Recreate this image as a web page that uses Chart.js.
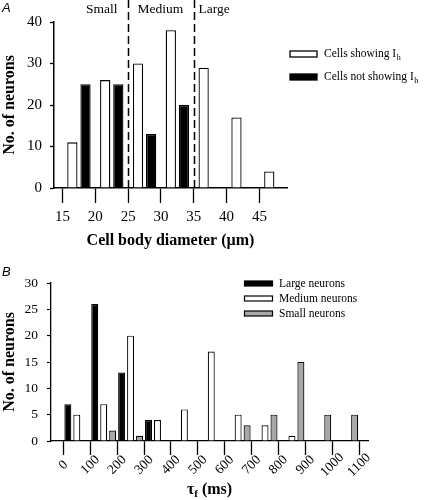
<!DOCTYPE html>
<html>
<head>
<meta charset="utf-8">
<script src="https://cdn.jsdelivr.net/npm/chart.js@4.4.1/dist/chart.umd.min.js"></script>
<style>
    html, body { margin: 0; padding: 0; background: #fff; }
    #wrap { position: relative; width: 424px; height: 500px; }
    canvas { position: absolute; left: 0; }
    #diameterChart { top: 0; }
    #tauChart { top: 250px; }
</style>
</head>
<body>
<div id="wrap">
    <canvas id="diameterChart" width="424" height="250"></canvas>
    <canvas id="tauChart" width="424" height="250"></canvas>
</div>
<script>
// panel A - cell body diameter, 5 um bins
const diameterBins = [15, 20, 25, 30, 35, 40, 45];
const showingIh = [11, 26, 30, 38, 29, 17, 4];
const notShowingIh = [25, 25, 13, 20, null, null, null];
const diameterTicks = [15, 20, 25, 30, 35, 40, 45];
const sizeBounds = [25, 35];
const sizeLabels = ['Small', 'Medium', 'Large'];

// panel B - tau_f, 100 ms bins
const tauBins = [0, 100, 200, 300, 400, 500, 600, 700, 800, 900, 1000];
const largeCounts = [7, 26, 13, 4, null, null, null, null, null, null, null];
const mediumCounts = [5, 7, 20, 4, 6, 17, 5, 3, 1, null, null];
const smallCounts = [null, 2, 1, null, null, null, 3, 5, 15, 5, 5];
const tauTicks = [0, 100, 200, 300, 400, 500, 600, 700, 800, 900, 1000, 1100];

const serif = "'Liberation Serif', 'Times New Roman', serif";
Chart.defaults.font.family = serif;
Chart.defaults.color = '#000';

function drawSubText(ctx, text, sub, x, y, size, weight) {
    const w = weight ? weight + ' ' : '';
    ctx.font = w + size + 'px ' + serif;
    ctx.textAlign = 'left';
    ctx.fillText(text, x, y);
    const tw = ctx.measureText(text).width;
    ctx.font = w + Math.round(size * 0.7) + 'px ' + serif;
    ctx.fillText(sub, x + tw + 0.5, y + size * 0.3);
    return tw + ctx.measureText(sub).width;
}

const panelA = {
    id: 'panelA',
    afterDraw(chart) {
        const { ctx, chartArea, scales: { x } } = chart;
        ctx.save();
        ctx.strokeStyle = '#000';
        ctx.lineWidth = 1.5;
        ctx.setLineDash([8, 4]);
        const px = sizeBounds.map(b => Math.round(x.getPixelForValue(b)) + 0.5);
        px.forEach(p => {
            ctx.beginPath();
            ctx.moveTo(p, 0);
            ctx.lineTo(p, chartArea.bottom);
            ctx.stroke();
        });
        ctx.setLineDash([]);

        ctx.fillStyle = '#000';
        ctx.font = '13.5px ' + serif;
        ctx.textBaseline = 'middle';
        ctx.textAlign = 'right';
        ctx.fillText(sizeLabels[0], px[0] - 11, 9);
        ctx.textAlign = 'left';
        ctx.fillText(sizeLabels[1], px[0] + 9, 9);
        ctx.fillText(sizeLabels[2], px[1] + 4, 9);

        // legend
        chart.data.datasets.forEach((ds, i) => {
            const y = 54 + i * 23;
            ctx.fillStyle = ds.backgroundColor;
            ctx.fillRect(290, y - 3, 27, 6);
            ctx.lineWidth = 1.3;
            ctx.strokeRect(290, y - 3, 27, 6);
            ctx.fillStyle = '#000';
            ctx.textBaseline = 'middle';
            drawSubText(ctx, ds.label, 'h', 324, y, 11.5);
        });

        ctx.font = "italic 13px 'Liberation Sans', sans-serif";
        ctx.textAlign = 'left';
        ctx.fillText('A', 2, 8);
        ctx.restore();
    }
};

const panelB = {
    id: 'panelB',
    afterDraw(chart) {
        const { ctx, chartArea, scales: { x } } = chart;
        ctx.save();
        ctx.fillStyle = '#000';
        ctx.font = '13.5px ' + serif;
        ctx.textAlign = 'center';
        ctx.textBaseline = 'middle';
        tauTicks.forEach(t => {
            ctx.save();
            ctx.translate(x.getPixelForValue(t), 215);
            ctx.rotate(-Math.PI / 4);
            ctx.fillText(String(t), 0, 0);
            ctx.restore();
        });

        // axis title with subscript
        ctx.textBaseline = 'middle';
        ctx.font = 'bold 16px ' + serif;
        const tauW = ctx.measureText('\u03c4').width;
        ctx.font = 'bold 11px ' + serif;
        const fW = ctx.measureText('f').width;
        ctx.font = 'bold 16px ' + serif;
        const restW = ctx.measureText(' (ms)').width;
        let tx = (chartArea.left + chartArea.right) / 2 - (tauW + fW + restW) / 2;
        ctx.textAlign = 'left';
        ctx.fillText('\u03c4', tx, 240);
        ctx.font = 'bold 11px ' + serif;
        ctx.fillText('f', tx + tauW, 244);
        ctx.font = 'bold 16px ' + serif;
        ctx.fillText(' (ms)', tx + tauW + fW, 240);

        // legend
        chart.data.datasets.forEach((ds, i) => {
            const y = 33.5 + i * 15;
            ctx.fillStyle = ds.backgroundColor;
            ctx.fillRect(244.5, y - 2.5, 28, 5);
            ctx.lineWidth = 1.2;
            ctx.strokeStyle = '#000';
            ctx.strokeRect(244.5, y - 2.5, 28, 5);
            ctx.fillStyle = '#000';
            ctx.font = '11.5px ' + serif;
            ctx.fillText(ds.label, 279, y + 0.5);
        });

        ctx.font = "italic 13px 'Liberation Sans', sans-serif";
        ctx.fillText('B', 2, 22);
        ctx.restore();
    }
};

const blackAxis = { color: '#000', width: 1.5 };

new Chart(document.getElementById('diameterChart'), {
    type: 'bar',
    data: {
        labels: diameterBins.map(b => b + 2.5),
        datasets: [{
            label: 'Cells showing I',
            data: showingIh,
            backgroundColor: '#fff',
            borderColor: '#000',
            borderWidth: 1.3,
            categoryPercentage: 0.8,
            barPercentage: 0.78
        }, {
            label: 'Cells not showing I',
            data: notShowingIh,
            backgroundColor: '#000',
            borderColor: '#000',
            borderWidth: 1.3,
            categoryPercentage: 0.8,
            barPercentage: 0.78
        }]
    },
    options: {
        responsive: false,
        animation: false,
        devicePixelRatio: 1,
        layout: { padding: { left: 0, right: 137, top: 22, bottom: 0 } },
        plugins: { legend: { display: false }, tooltip: { enabled: false } },
        scales: {
            x: {
                type: 'linear',
                min: 13.7,
                max: 49.2,
                offset: false,
                afterBuildTicks: s => { s.ticks = diameterTicks.map(v => ({ value: v })); },
                afterFit: s => { s.height = 62; },
                grid: { drawOnChartArea: false, offset: false, tickLength: 15, tickColor: '#000', tickWidth: 1.3 },
                border: blackAxis,
                ticks: { color: '#000', font: { size: 15 }, padding: 5, maxRotation: 0 },
                title: { display: true, text: 'Cell body diameter (\u00b5m)', color: '#000', font: { size: 16, weight: 'bold' }, padding: 0 }
            },
            y: {
                min: 0,
                max: 40,
                afterFit: s => { s.width = 54; },
                grid: { drawOnChartArea: false, tickLength: 4, tickColor: '#000', tickWidth: 1.3 },
                border: blackAxis,
                ticks: { stepSize: 5, color: '#000', font: { size: 15 }, padding: 8, callback: v => v % 10 === 0 ? v : '' },
                title: { display: true, text: 'No. of neurons', color: '#000', font: { size: 16, weight: 'bold' }, padding: 0 }
            }
        }
    },
    plugins: [panelA]
});

new Chart(document.getElementById('tauChart'), {
    type: 'bar',
    data: {
        labels: tauBins.map(b => b + 50),
        datasets: [{
            label: 'Large neurons',
            data: largeCounts,
            backgroundColor: '#000'
        }, {
            label: 'Medium neurons',
            data: mediumCounts,
            backgroundColor: '#fff'
        }, {
            label: 'Small neurons',
            data: smallCounts,
            backgroundColor: '#a8a8a8'
        }].map(ds => Object.assign(ds, { borderColor: '#000', borderWidth: 1.2, categoryPercentage: 1, barPercentage: 0.78 }))
    },
    options: {
        responsive: false,
        animation: false,
        devicePixelRatio: 1,
        layout: { padding: { left: 0, right: 56, top: 33, bottom: 0 } },
        plugins: { legend: { display: false }, tooltip: { enabled: false } },
        scales: {
            x: {
                type: 'linear',
                min: -46,
                max: 1133,
                offset: false,
                afterBuildTicks: s => { s.ticks = tauTicks.map(v => ({ value: v })); },
                afterFit: s => { s.height = 59; },
                grid: { drawOnChartArea: false, offset: false, tickLength: 14, tickColor: '#000', tickWidth: 1.3 },
                border: { color: '#000', width: 1.3 },
                ticks: { display: false }
            },
            y: {
                min: 0,
                max: 30,
                afterFit: s => { s.width = 51; },
                grid: { drawOnChartArea: false, tickLength: 4, tickColor: '#000', tickWidth: 1.2 },
                border: { color: '#000', width: 1.3 },
                ticks: { stepSize: 2.5, color: '#000', font: { size: 13.5 }, padding: 9, callback: v => v % 5 === 0 ? v : '' },
                title: { display: true, text: 'No. of neurons', color: '#000', font: { size: 16, weight: 'bold' }, padding: 0 }
            }
        }
    },
    plugins: [panelB]
});
</script>
</body>
</html>
